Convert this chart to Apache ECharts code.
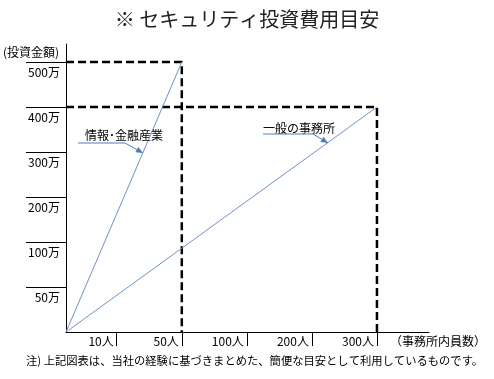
<!DOCTYPE html>
<html><head><meta charset="utf-8">
<script src="https://cdn.jsdelivr.net/npm/echarts@6/dist/echarts.min.js"></script>
<style>html,body{margin:0;padding:0;background:#fff}#c{width:494px;height:379px}</style>
</head><body><div id="c"></div>
<script>
const titleText = '※ セキュリティ投資費用目安';
const yAxisName = '(投資金額)';
const xAxisName = '（事務所内員数）';
const footnote = '注) 上記図表は、当社の経験に基づきまとめた、簡便な目安として利用しているものです。';
const xTickValues = [10, 50, 100, 200, 300];
const xTickLabels = ['10人', '50人', '100人', '200人', '300人'];
const yTickValues = [50, 100, 200, 300, 400, 500];
const yTickLabels = ['50万', '100万', '200万', '300万', '400万', '500万'];
const seriesNames = ['情報･金融産業', '一般の事務所'];
const financeStaff = [0, 50];
const financeCost = [0, 500];
const generalStaff = [0, 300];
const generalCost = [0, 400];

// piecewise axis scale: data value -> axis units
const xScaleIn = [0, 10, 50, 100, 200, 300], xScaleOut = [0, 0.78, 1.78, 2.78, 3.78, 4.78];
const yScaleIn = [0, 50, 100, 200, 300, 400, 500], yScaleOut = [0, 1, 2, 3, 4, 5, 6];
function pw(v, ins, outs) {
  for (let i = 1; i < ins.length; i++) {
    if (v <= ins[i]) { const t = (v - ins[i-1]) / (ins[i] - ins[i-1]); return outs[i-1] + t * (outs[i] - outs[i-1]); }
  }
  const n = ins.length - 1;
  return outs[n] + (v - ins[n]) * (outs[n] - outs[n-1]) / (ins[n] - ins[n-1]);
}
const fx = v => pw(v, xScaleIn, xScaleOut);
const fy = v => pw(v, yScaleIn, yScaleOut);
function lookup(val, values, labels, f) {
  for (let i = 0; i < values.length; i++) if (Math.abs(f(values[i]) - val) < 1e-6) return labels[i];
  return '';
}
const pts = (xs, ys) => xs.map((x, i) => [fx(x), fy(ys[i])]);

const FONT = '"Noto Sans CJK JP", sans-serif';
const lineColor = '#6f93c4';
const arrowColor = '#4a7ebb';
const dashStyle = { color: '#000', width: 2.5, type: [8, 4] };

function arrow(points) {
  const n = points.length, tip = points[n-1], prev = points[n-2];
  const dx = tip[0] - prev[0], dy = tip[1] - prev[1], L = Math.hypot(dx, dy);
  const ux = dx / L, uy = dy / L, bx = tip[0] - ux * 7, by = tip[1] - uy * 7;
  return [
    { type: 'polyline', shape: { points: points }, style: { stroke: arrowColor, lineWidth: 1, fill: null }, z: 10 },
    { type: 'polygon', shape: { points: [tip, [bx - uy * 3, by + ux * 3], [bx + uy * 3, by - ux * 3]] }, style: { fill: arrowColor }, z: 10 }
  ];
}

const chart = echarts.init(document.getElementById('c'), null, { renderer: 'canvas' });
chart.setOption({
  animation: false,
  backgroundColor: '#fff',
  title: { text: titleText, left: 'center', top: 4, textStyle: { fontFamily: FONT, fontSize: 20, fontWeight: 'normal', color: '#222' } },
  grid: { left: 66, right: 65, top: 44, bottom: 47, containLabel: false },
  xAxis: {
    type: 'value', min: 0, max: 5.58,
    axisLine: { show: true, lineStyle: { color: '#000', width: 1 } },
    axisTick: { show: true, customValues: xTickValues.map(fx), length: 14, lineStyle: { color: '#000', width: 1 } },
    axisLabel: { customValues: xTickValues.map(fx), formatter: v => lookup(v, xTickValues, xTickLabels, fx),
      align: 'right', padding: [0, 3, 0, 0], margin: 3, fontFamily: FONT, fontSize: 12, color: '#000' },
    splitLine: { show: false }
  },
  yAxis: {
    type: 'value', min: 0, max: 6.4,
    axisLine: { show: true, lineStyle: { color: '#000', width: 1 } },
    axisTick: { show: true, customValues: yTickValues.map(fy), length: 40, lineStyle: { color: '#000', width: 1 } },
    axisLabel: { customValues: yTickValues.map(fy), formatter: v => lookup(v, yTickValues, yTickLabels, fy),
      align: 'right', verticalAlign: 'top', padding: [4, 0, 0, 0], margin: 6, fontFamily: FONT, fontSize: 12, color: '#000' },
    splitLine: { show: false }
  },
  series: [
    { name: seriesNames[0] + '枠', type: 'line', symbol: 'none', silent: true, lineStyle: dashStyle, z: 3,
      data: pts([0, financeStaff[1], financeStaff[1]], [financeCost[1], financeCost[1], 0]) },
    { name: seriesNames[1] + '枠', type: 'line', symbol: 'none', silent: true, lineStyle: dashStyle, z: 3,
      data: pts([0, generalStaff[1], generalStaff[1]], [generalCost[1], generalCost[1], 0]) },
    { name: seriesNames[0], type: 'line', symbol: 'none', lineStyle: { color: lineColor, width: 1 }, z: 4,
      data: pts(financeStaff, financeCost) },
    { name: seriesNames[1], type: 'line', symbol: 'none', lineStyle: { color: lineColor, width: 1 }, z: 4,
      data: pts(generalStaff, generalCost) }
  ],
  graphic: [
    { type: 'text', style: { x: 3, y: 52, text: yAxisName, font: '12px ' + FONT, fill: '#000', verticalAlign: 'middle' } },
    { type: 'text', style: { x: 390, y: 341, text: xAxisName, font: '12px ' + FONT, fill: '#000', verticalAlign: 'middle' } },
    { type: 'text', style: { x: 26, y: 361, text: footnote, font: '11.3px ' + FONT, fill: '#000', verticalAlign: 'middle' } },
    { type: 'text', style: { x: 85, y: 135, text: seriesNames[0], font: '12px ' + FONT, fill: '#000', verticalAlign: 'middle' }, z: 10 },
    { type: 'text', style: { x: 263, y: 128, text: seriesNames[1], font: '12px ' + FONT, fill: '#000', verticalAlign: 'middle' }, z: 10 },
    ...arrow([[78, 143], [125, 143], [143, 153]]),
    ...arrow([[263, 134], [313, 134], [328, 143]])
  ]
});
</script></body></html>
